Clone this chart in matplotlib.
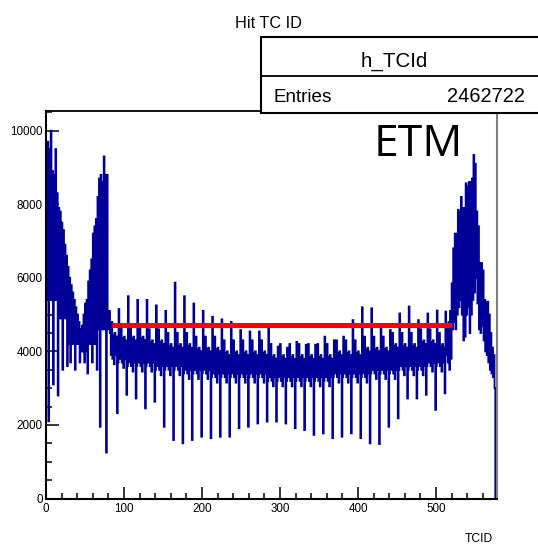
import matplotlib
matplotlib.use('Agg')
import matplotlib.pyplot as plt
from matplotlib import font_manager
from matplotlib.ticker import MultipleLocator
from matplotlib.patches import Rectangle
from matplotlib.lines import Line2D
import numpy as np

# ---------------- data (counts in units of 100) ----------------
# forward endcap, TC 1-80
fwd = [96, 54, 97, 21, 95, 54, 100, 54, 89, 31, 88, 54, 95, 54, 83, 28, 79, 49, 78, 49,
       75, 35, 73, 49, 69, 49, 66, 36, 63, 42, 60, 37, 58, 42, 56, 42, 54, 35, 52, 42,
       50, 42, 48, 37, 46, 40, 47, 40, 50, 37, 53, 40, 54, 34, 59, 42, 62, 42, 65, 37,
       72, 42, 74, 42, 76, 35, 82, 46, 87, 19.5, 88, 46, 86, 46, 93, 46, 88, 12.5, 88, 46]

# barrel, TC 81-512 (36 phi groups of 12)
barrel = [
    49, 51, 45, 39, 48, 38, 44.5, 36.5, 45, 39, 44, 23.2,
    37, 51.5, 44, 38, 47, 37, 43.5, 35.5, 44, 38, 43, 28.2,
    36, 55, 44, 37, 47, 36, 43.5, 34.5, 44, 37, 43, 27.2,
    36, 54, 44, 37, 47, 36, 43.5, 34.5, 44, 37, 43, 24.5,
    36, 54, 43, 37, 46, 36, 42.5, 34.5, 43, 37, 42, 26.3,
    35, 52.5, 43, 36, 46, 35, 42.5, 33.5, 43, 36, 42, 19.5,
    35, 51, 42, 36, 45, 35, 41.5, 33.5, 42, 36, 41, 15.9,
    35, 58.7, 42, 36, 45, 35, 41.5, 33.5, 42, 36, 41, 15,
    34, 55, 42, 35, 45, 34, 41.5, 32.5, 42, 35, 41, 15.9,
    34, 53, 41, 35, 44, 34, 40.5, 32.5, 41, 35, 40, 16.8,
    34, 51, 41, 35, 44, 34, 40.5, 32.5, 41, 35, 40, 16.4,
    33, 49.4, 41, 34, 44, 33, 40.5, 31.5, 41, 34, 40, 16.8,
    33, 48.7, 40, 34, 43, 33, 39.5, 31.5, 40, 34, 39, 16.8,
    33, 48, 40, 34, 43, 33, 39.5, 31.5, 40, 34, 39, 19.1,
    33, 45.8, 40, 34, 43, 33, 39.5, 31.5, 40, 34, 39, 19.5,
    33, 45.4, 40, 34, 43, 33, 39.5, 31.5, 40, 34, 39, 20.4,
    33, 45.4, 40, 34, 43, 33, 39.5, 31.5, 40, 34, 39, 20.9,
    32, 46.3, 39, 33, 42, 32, 38.5, 30.5, 39, 33, 38, 20.9,
    32, 41.3, 39, 33, 42, 32, 38.5, 30.5, 39, 33, 38, 20.4,
    32, 41, 39, 33, 42, 32, 38.5, 30.5, 39, 33, 38, 19.1,
    32, 42.6, 39, 33, 42, 32, 38.5, 30.5, 39, 33, 38, 18.6,
    32, 41.8, 39, 33, 42, 32, 38.5, 30.5, 39, 33, 38, 17.3,
    32, 41.8, 39, 33, 42, 32, 38.5, 30.5, 39, 33, 38, 17.7,
    32, 44, 39, 33, 42, 32, 38.5, 30.5, 39, 33, 38, 16.4,
    33, 43, 40, 34, 43, 33, 39.5, 31.5, 40, 34, 39, 16.8,
    33, 44, 40, 34, 43, 33, 39.5, 31.5, 40, 34, 39, 17.7,
    33, 48.5, 40, 34, 43, 33, 39.5, 31.5, 40, 34, 39, 16.4,
    33, 52, 41, 34, 44, 33, 40.5, 31.5, 41, 34, 40, 15,
    34, 51.7, 41, 35, 44, 34, 40.5, 32.5, 41, 35, 40, 14.8,
    34, 46.3, 41, 35, 44, 34, 40.5, 32.5, 41, 35, 40, 19.5,
    34, 45.8, 42, 35, 45, 34, 41.5, 32.5, 42, 35, 41, 21.8,
    35, 50.3, 42, 36, 45, 35, 41.5, 33.5, 42, 36, 41, 27.2,
    35, 52.2, 42, 36, 45, 35, 41.5, 33.5, 42, 36, 41, 27.2,
    35, 48.5, 43, 36, 46, 35, 42.5, 33.5, 43, 36, 42, 28.2,
    36, 50.3, 43, 37, 46, 36, 42.5, 34.5, 43, 37, 42, 24.1,
    36, 51.1, 42, 37, 45, 36, 41.5, 34.5, 42, 37, 41, 28.6,
]

# backward endcap, TC 513-576
bwd = [50.8, 39, 46, 37, 48, 35, 51, 38, 58.5, 46, 68, 48, 72, 46, 72, 50,
       78.5, 52, 78, 54, 82, 50, 79, 43, 79, 44, 85.7, 50, 85, 52, 86, 45,
       86, 50, 87, 54, 93.4, 56, 91, 60, 78, 53, 74, 46, 64, 45, 64, 47,
       62, 43, 54, 40, 53.5, 39, 53.5, 37, 50, 35, 45, 34, 41, 33, 39, 30]

x_ticks_major = [0, 100, 200, 300, 400, 500]
y_ticks_major = [0, 2000, 4000, 6000, 8000, 10000]
red_line_x = [84, 520]
red_line_y = 4720
n_entries = "2462722"

# ---------------- fonts ----------------
names = {f.name for f in font_manager.fontManager.ttflist}
narrow = 'Liberation Sans Narrow' if 'Liberation Sans Narrow' in names else 'Liberation Sans'
is_narrow = narrow.endswith('Narrow')
k = 1.0 if is_narrow else 0.82

W, H = 538, 547
fig = plt.figure(figsize=(W / 100, H / 100), dpi=100)
L, R, T, B = 46, 496.7, 111, 498.5
ax = fig.add_axes([L / W, 1 - B / H, (R - L) / W, (B - T) / H])

values = np.array(fwd + barrel + bwd) * 100.0
edges = np.arange(len(values) + 1)
ax.stairs(values, edges, color='#000099', linewidth=1.3, baseline=0, zorder=2)

ax.plot(red_line_x, [red_line_y, red_line_y], color='#ff0000', linewidth=3.6,
        solid_capstyle='butt', zorder=5)

ax.set_xlim(0, 577.8)
ax.set_ylim(0, 10535)

ax.set_xticks(x_ticks_major)
ax.set_yticks(y_ticks_major)
ax.xaxis.set_minor_locator(MultipleLocator(20))
ax.yaxis.set_minor_locator(MultipleLocator(500))
ax.tick_params(which='both', direction='in', top=False, right=False,
               width=1.1, color='black')
ax.tick_params(which='major', length=9)
ax.tick_params(which='minor', length=4.5)
ax.tick_params(axis='y', which='major', pad=2.5)
ax.tick_params(axis='x', which='major', pad=3)
for lab in ax.get_xticklabels() + ax.get_yticklabels():
    lab.set_fontfamily(narrow)
    lab.set_fontsize(10.2 * k)

for s in ['left', 'bottom']:
    ax.spines[s].set_linewidth(1.5)
    ax.spines[s].set_color('black')
ax.spines['top'].set_linewidth(1.3)
ax.spines['top'].set_color('black')
ax.spines['right'].set_linewidth(1.5)
ax.spines['right'].set_color('#808080')

# title and axis label
fig.text(268 / W, 1 - 28 / H, 'Hit TC ID', ha='center', va='baseline',
         fontsize=14.3 * k, family=narrow)
fig.text(493 / W, 1 - 541.5 / H, 'TCID', ha='right', va='baseline',
         fontsize=10.6 * k, family=narrow)

# stats box
bx0, by_top, by_mid, by_bot = 260.7, 37.3, 76, 112.7
box = Rectangle((bx0 / W, 1 - by_bot / H), (560 - bx0) / W, (by_bot - by_top) / H,
                transform=fig.transFigure, facecolor='white', edgecolor='black',
                linewidth=1.5, zorder=10)
fig.add_artist(box)
fig.add_artist(Line2D([bx0 / W, 1.0], [1 - by_mid / H, 1 - by_mid / H],
                      transform=fig.transFigure, color='black', linewidth=1.3, zorder=11))
fig.text(394 / W, 1 - 66.7 / H, 'h_TCId', ha='center', va='baseline',
         fontsize=18 * k, family=narrow, zorder=12)
fig.text(273.3 / W, 1 - 102.3 / H, 'Entries', ha='left', va='baseline',
         fontsize=16.6 * k, family=narrow, zorder=12)
fig.text(525 / W, 1 - 102.3 / H, n_entries, ha='right', va='baseline',
         fontsize=17.6 * k, family=narrow, zorder=12)

# ETM annotation
fig.text(374 / W, 1 - 155.5 / H, 'ETM', ha='left', va='baseline',
         fontsize=32, family='Open Sans', color='black', zorder=12)

fig.savefig('out.png', dpi=100)
